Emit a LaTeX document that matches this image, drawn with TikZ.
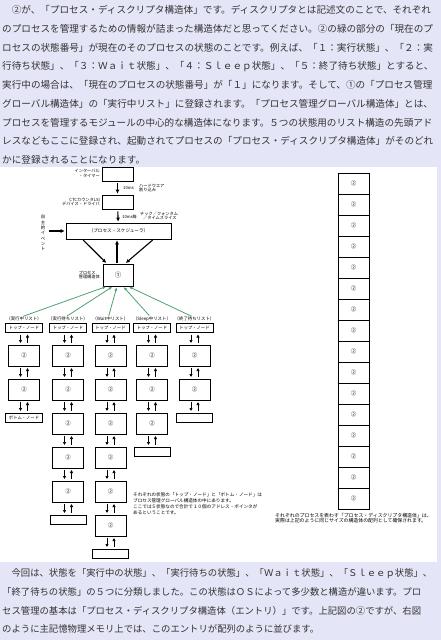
\documentclass[tikz,border=0pt]{standalone}
\usepackage{fontspec}
\usetikzlibrary{
    arrows.meta,
    positioning,
    calc
}
\newfontfamily\jfont{Noto Sans CJK JP}
\definecolor{PanelLavender}{RGB}{229,229,248}
\definecolor{ListGreen}{RGB}{80,162,112}
\definecolor{BodyGray}{RGB}{50,50,50}

\begin{document}
\begin{tikzpicture}[
    x=1pt, y=-1pt,
    >=Latex,
    body/.style={anchor=base west, inner sep=0pt, text=BodyGray,
        font=\jfont\fontsize{9.6}{10}\selectfont},
    tiny/.style={inner sep=0pt, align=left,
        font=\jfont\fontsize{4.2}{4.8}\selectfont},
    note/.style={inner sep=0pt, align=left, anchor=north west,
        font=\jfont\fontsize{4.6}{6}\selectfont},
    box/.style={draw, line width=0.6pt, inner sep=0pt,
        minimum width=31pt, minimum height=14pt,
        font=\jfont\fontsize{4.6}{5}\selectfont},
    cell/.style={draw, line width=0.6pt, inner sep=0pt,
        minimum width=31pt, minimum height=21pt,
        font=\jfont\fontsize{5.5}{6}\selectfont},
    tag/.style={draw, line width=0.6pt, inner sep=0pt,
        minimum width=37pt, minimum height=9pt,
        font=\jfont\fontsize{4.3}{5}\selectfont},
    flow/.style={-{Latex[length=4pt,width=4pt]}, line width=1.1pt,
        shorten <=2pt, shorten >=1pt},
    link/.style={-{Latex[length=3.2pt,width=3.4pt]}, line width=1pt,
        shorten <=2pt, shorten >=1.5pt},
    reg/.style={-{Latex[length=3.5pt,width=3pt]}, line width=0.8pt,
        ListGreen, shorten <=1pt, shorten >=1pt}
]

% Panels
\fill[PanelLavender] (0,0) rectangle (441,640);
\fill[white] (0,167) rectangle (437,562);
\useasboundingbox (0,0) rectangle (441,640);

% Upper text
\foreach \txt [count=\i] in {
    {　②が、「プロセス・ディスクリプタ構造体」です。ディスクリプタとは記述文のことで、それぞれ},
    {のプロセスを管理するための情報が詰まった構造体だと思ってください。②の緑の部分の「現在のプ},
    {ロセスの状態番号」が現在のそのプロセスの状態のことです。例えば、「１：実行状態」、「２：実},
    {行待ち状態」、「３：Ｗａｉｔ状態」、「４：Ｓｌｅｅｐ状態」、「５：終了待ち状態」とすると、},
    {実行中の場合は、「現在のプロセスの状態番号」が「１」になります。そして、①の「プロセス管理},
    {グローバル構造体」の「実行中リスト」に登録されます。「プロセス管理グローバル構造体」とは、},
    {プロセスを管理するモジュールの中心的な構造体になります。５つの状態用のリスト構造の先頭アド},
    {レスなどもここに登録され、起動されてプロセスの「プロセス・ディスクリプタ構造体」がそのどれ},
    {かに登録されることになります。}}
    \node[body] (top-\i) at (2,-5.15+18.75*\i) {\txt};

% Timer, driver, scheduler
\node[box] (timer) at (117.5,174) {};
\node[tiny, anchor=east, align=right] (timer-lbl) at (100,173) {インターバル\\・タイマー};
\node[box] (ctc) at (117.5,202) {};
\node[tiny, anchor=east, align=right] (ctc-lbl) at (100,202) {CTCカウンタLSI\\デバイス・ドライバ};
\node[box, minimum width=105pt, minimum height=16pt] (sched) at (118.5,231) {（プロセス・スケジューラ）};
\node[box, minimum width=30pt, minimum height=22pt,
    font=\jfont\fontsize{6.5}{7}\selectfont] (pmg) at (118,275) {①};
\node[tiny, anchor=east] (pmg-lbl) at (100,275) {プロセス\\管理構造体};

\draw[flow] (timer) -- (ctc);
\node[tiny, anchor=west] (tick1) at (123,188) {10ms};
\node[tiny, anchor=west] (hw) at (139,188) {ハードウエア\\割り込み};
\draw[flow] (ctc) -- (sched);
\node[tiny, anchor=west] (tick2) at (122,217) {10ms毎};
\node[tiny, anchor=west] (quantum) at (140,216) {チック／クォンタム\\\hspace{3pt}／タイムスライス};

% Voluntary event
\node[tiny, align=center, font=\jfont\fontsize{4.4}{5.3}\selectfont] (evt) at (43,233) {自\\主\\的\\イ\\ベ\\ン\\ト};
\draw[flow, shorten <=4pt] (evt.east |- sched.west) -- (sched.west);

% Scheduler <-> process management
\draw[flow, shorten <=1pt] ([xshift=-36pt]sched.south) -- ([xshift=-11pt]pmg.north);
\draw[flow, shorten <=1pt] ([xshift=35pt]sched.south) -- ([xshift=7pt]pmg.north);
\draw[flow, shorten <=1pt] ([xshift=-1pt]pmg.north) -- ([xshift=-1pt]pmg.north |- sched.south);

% State lists
\foreach \c/\x/\n/\kind in {1/24/2/実行中, 2/68/5/実行待ち, 3/110.5/6/Wait中,
    4/152/3/Sleep中, 5/194.5/2/終了待ち}{
    \node[tiny, font=\jfont\fontsize{4.4}{5}\selectfont] (l-\c) at (\x,319) {（\kind リスト）};
    \node[tag] (p-\c-0) at (\x,328) {トップ・ノード};
    \foreach \r in {1,...,\n}
        \node[cell] (p-\c-\r) at (\x,321.5+34*\r) {②};
    \pgfmathtruncatemacro\m{\n+1}
    \ifnum\c=1
        \node[tag] (p-\c-\m) at (\x,315.5+34*\m) {ボトム・ノード};
    \else
        \node[tag, minimum width=36pt] (p-\c-\m) at (\x,315.5+34*\m) {};
    \fi
    \foreach \r in {1,...,\m}{
        \pgfmathtruncatemacro\q{\r-1}
        \draw[link] ([xshift=-3.5pt]p-\c-\q.south) -- ([xshift=-3.5pt]p-\c-\r.north);
        \draw[link] ([xshift=3.5pt]p-\c-\r.north) -- ([xshift=3.5pt]p-\c-\q.south);
    }
}

% Green links to the global structure
\foreach \c/\dx in {1/-11, 2/-5, 3/-1, 4/5, 5/10}
    \draw[reg] ([xshift=-2pt]l-\c.north) -- ([xshift=\dx pt]pmg.south);

\node[note] (lst-note) at (133,492) {それぞれの状態の「トップ・ノード」と「ボトム・ノード」は\\プロセス管理グローバル構造体の中にあります。\\ここでは５状態なので合計で１０個のアドレス・ポインタが\\あるということです。};

% Descriptor array
\foreach \k in {1,...,16}
    \node[cell] (a-\k) at (353.5,162.5+21*\k) {②};
\node[note, font=\jfont\fontsize{4.9}{5.6}\selectfont] (arr-note) at (275,513) {それぞれのプロセスを表わす「プロセス・ディスクリプタ構造体」は、\\実際は上記のように同じサイズの構造体の配列として確保されます。};

% Lower text
\foreach \txt [count=\i] in {
    {　今回は、状態を「実行中の状態」、「実行待ちの状態」、「Ｗａｉｔ状態」、「Ｓｌｅｅｐ状態」、},
    {「終了待ちの状態」の５つに分類しました。この状態はＯＳによって多少数と構造が違います。プロ},
    {セス管理の基本は「プロセス・ディスクリプタ構造体（エントリ）」です。上記図の②ですが、右図},
    {のように主記憶物理メモリ上では、このエントリが配列のように並びます。}}
    \node[body, font=\jfont\fontsize{9.35}{10}\selectfont] (bot-\i) at (2,557.6+18.8*\i) {\txt};

\end{tikzpicture}
\end{document}
